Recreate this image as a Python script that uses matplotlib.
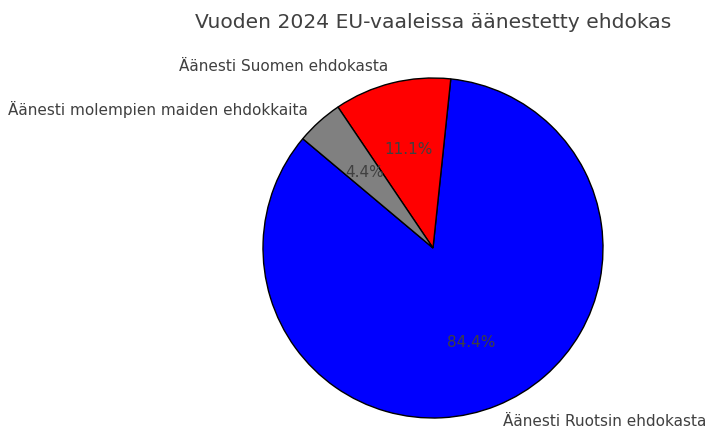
import matplotlib
matplotlib.use("Agg")
import matplotlib.pyplot as plt

# data (counts giving 84.4 / 11.1 / 4.4 %)
labels = ['Äänesti Ruotsin ehdokasta', 'Äänesti Suomen ehdokasta',
          'Äänesti molempien maiden ehdokkaita']
counts = [76, 10, 4]
colors = ['blue', 'red', 'gray']
title = 'Vuoden 2024 EU-vaaleissa äänestetty ehdokas'

text_color = '#404040'

fig = plt.figure(figsize=(7.08, 4.30), dpi=100)
ax = fig.add_axes([0, 0, 1, 1])

ax.pie(counts, labels=labels, colors=colors, autopct='%1.1f%%',
       startangle=140, wedgeprops={'edgecolor': 'black', 'linewidth': 1},
       textprops={'color': text_color, 'fontsize': 11})

# place pie: centre at (433, 248) px, radius 170 px
r = 170.0
cx, cy = 433.0, 248.0
ax.set_aspect('auto')
ax.set_xlim(-cx / r, (708 - cx) / r)
ax.set_ylim(-(430 - cy) / r, cy / r)
ax.axis('off')

fig.text(cx / 708, 1 - 22 / 430, title, ha='center', va='center',
         fontsize=14.6, color=text_color)

fig.savefig('out.png', dpi=100)
